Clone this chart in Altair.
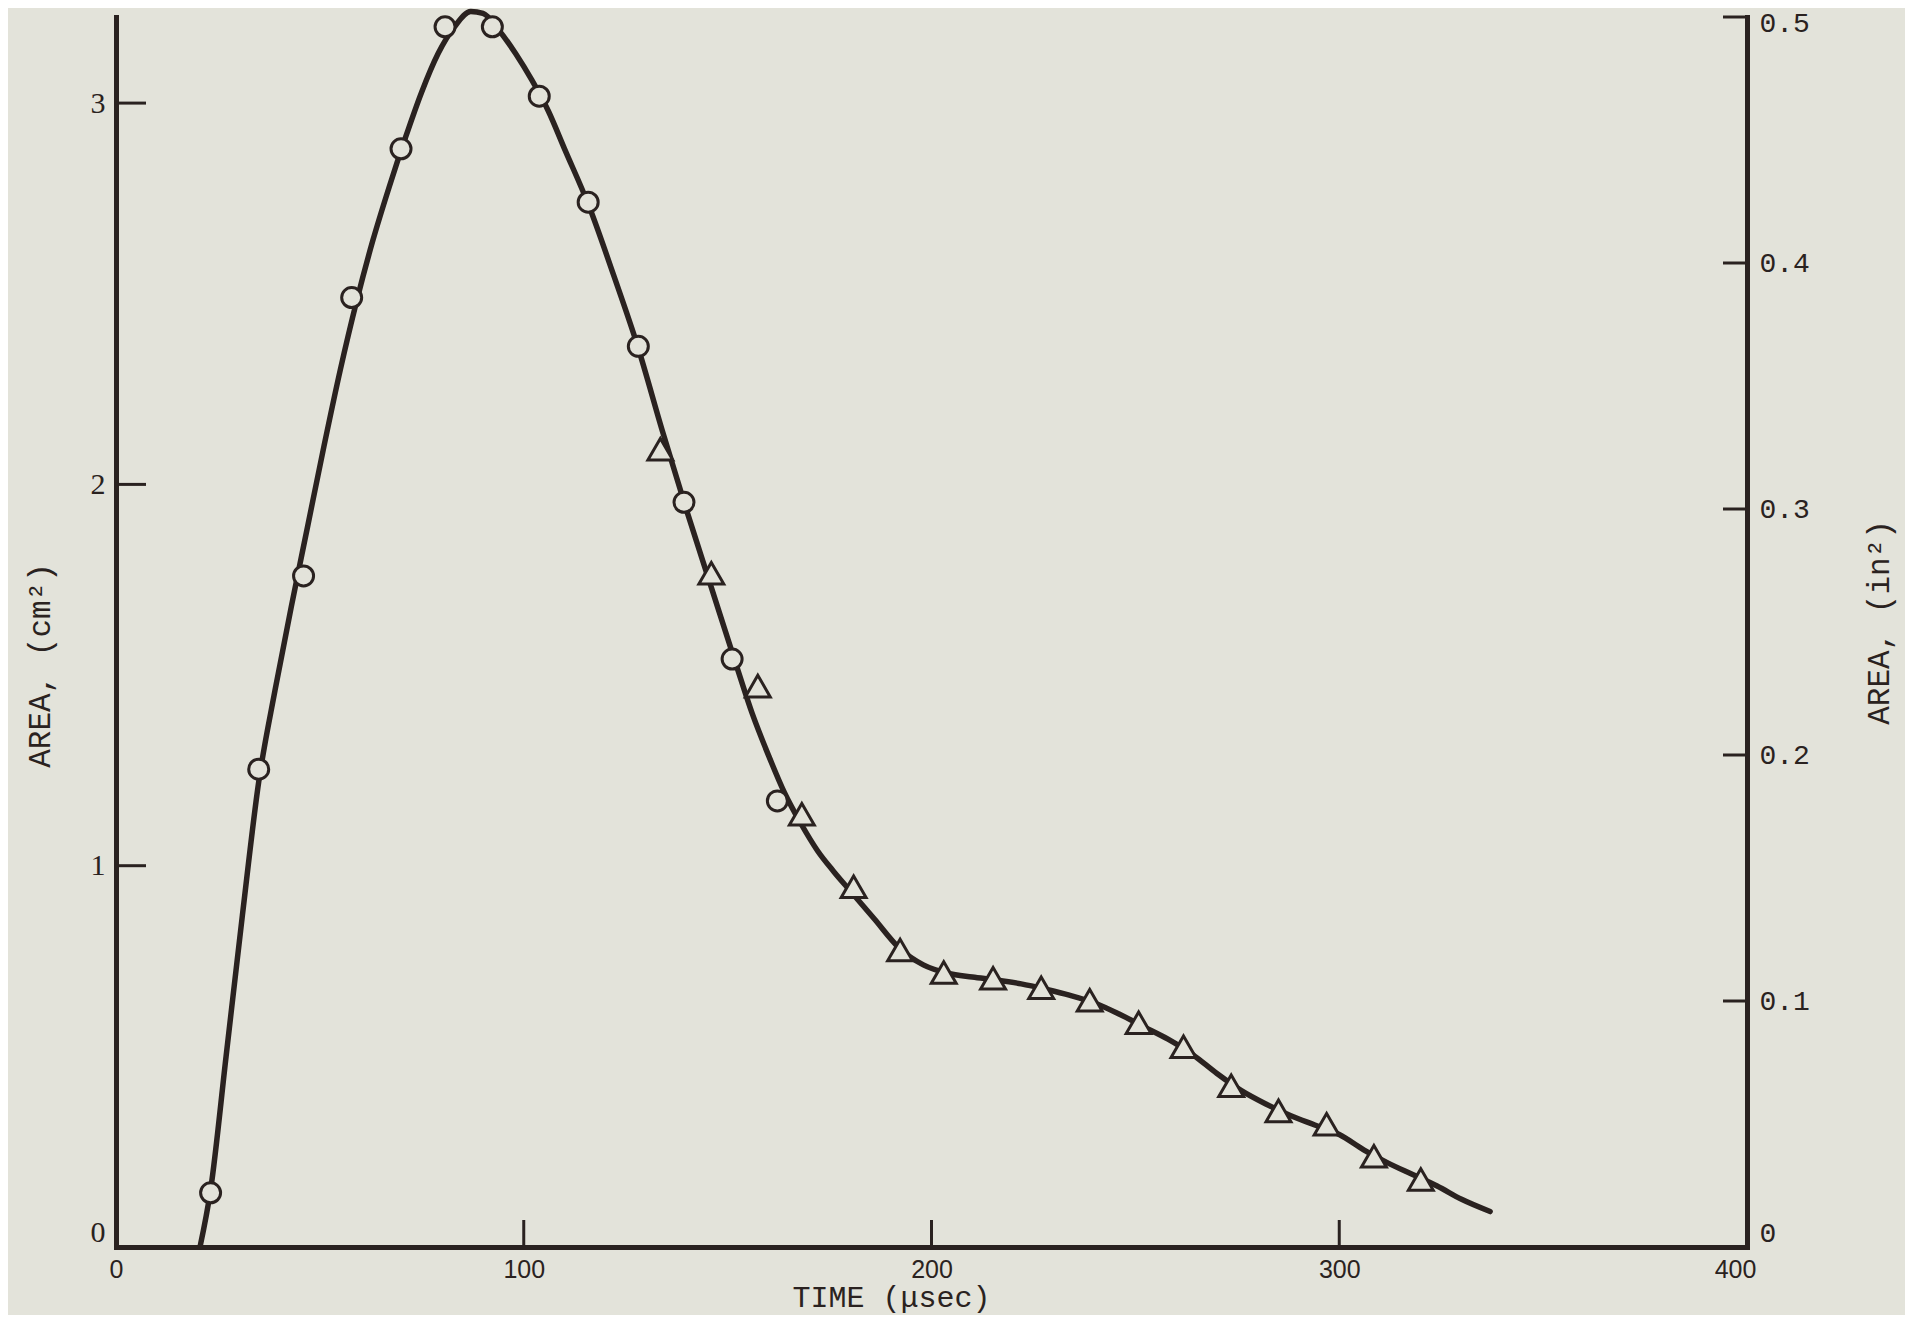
import altair as alt
import pandas as pd

# ---------------- data ----------------
curve_t = [20.6, 23.2, 27, 31, 35, 39, 43, 47, 51, 55, 59, 63, 67, 71, 75, 79, 83, 87, 90, 94,
           98, 102, 106, 110, 116, 122, 128, 134, 140, 146, 152, 156, 160, 164, 168, 172, 176,
           180, 186, 192, 198, 204, 210, 216, 222, 228, 234, 240, 246, 252, 258, 264, 270,
           276, 282, 288, 294, 300, 306, 312, 318, 324, 330, 337]
curve_a = [0.0, 0.15, 0.50, 0.87, 1.22, 1.46, 1.68, 1.89, 2.10, 2.30, 2.48, 2.64, 2.78, 2.91,
           3.03, 3.13, 3.20, 3.24, 3.235, 3.19, 3.13, 3.06, 2.98, 2.88, 2.73, 2.55, 2.36, 2.14,
           1.93, 1.73, 1.53, 1.40, 1.29, 1.19, 1.11, 1.04, 0.985, 0.935, 0.86, 0.785, 0.74,
           0.718, 0.708, 0.700, 0.690, 0.676, 0.660, 0.640, 0.611, 0.578, 0.545, 0.505, 0.455,
           0.41, 0.375, 0.345, 0.32, 0.295, 0.255, 0.22, 0.19, 0.16, 0.125, 0.093]

circle_t = [23.2, 35.0, 46.0, 57.8, 69.9, 80.7, 92.3, 103.8, 115.8, 128.1, 139.3, 151.1, 162.2]
circle_a = [0.142, 1.253, 1.760, 2.49, 2.88, 3.200, 3.200, 3.018, 2.740, 2.362, 1.953, 1.542, 1.170]

tri_t = [133.5, 146.0, 157.4, 168.2, 180.9, 192.3, 203.0, 215.1, 226.9, 238.8, 250.8, 261.8,
         273.5, 285.1, 296.9, 308.5, 320.0]
tri_a = [2.092, 1.767, 1.471, 1.135, 0.945, 0.779, 0.720, 0.705, 0.680, 0.647, 0.588, 0.525,
         0.423, 0.357, 0.322, 0.238, 0.177]

x_label_values = [0, 100, 200, 300, 400]
x_tick_values = [100, 200, 300]
left_label_values = [0, 1, 2, 3]
left_tick_values = [1, 2, 3]
right_label_values = [0, 0.1, 0.2, 0.3, 0.4, 0.5]
right_tick_values = [0.1, 0.2, 0.3, 0.4, 0.5]

CM2_PER_IN2 = 6.4516
X_DOMAIN = [0, 400]
LEFT_DOMAIN = [0, 0.5 * CM2_PER_IN2]
RIGHT_DOMAIN = [0, 0.5]

# ---------------- style ----------------
INK = "#2a2220"
PAPER = "#e3e3da"
W, H = 1631, 1230

curve_df = pd.DataFrame({"t": curve_t, "a": curve_a})
circ_df = pd.DataFrame({"t": circle_t, "a": circle_a})
tri_df = pd.DataFrame({"t": tri_t, "a": tri_a})
xt_df = pd.DataFrame({"t": x_tick_values})
lt_df = pd.DataFrame({"a": left_tick_values})
rt_df = pd.DataFrame({"b": right_tick_values})

x_axis = alt.Axis(
    values=x_label_values, ticks=False, tickSize=0, grid=False,
    domainColor=INK, domainWidth=5, domainCap="square",
    labelFont="Liberation Sans", labelFontSize=25, labelColor=INK,
    labelPadding=10, labelFlush=False,
    labelOffset={"condition": {"test": "datum.value == 400", "value": -12}, "value": 0},
    title="TIME (μsec)", titleFont="Liberation Mono", titleFontSize=30,
    titleFontWeight="normal", titleColor=INK,
    titleX=775, titleY=50, titleBaseline="middle", titleAlign="center",
)
X = alt.X("t:Q", scale=alt.Scale(domain=X_DOMAIN, nice=False, zero=False), axis=x_axis)

left_axis = alt.Axis(
    values=left_label_values, ticks=False, tickSize=0, grid=False,
    domainColor=INK, domainWidth=5, domainCap="square",
    labelFont="Liberation Serif", labelFontSize=30, labelColor=INK,
    labelPadding=11, labelFlush=False, format="d",
    labelBaseline={"condition": {"test": "datum.value == 0", "value": "bottom"}, "value": "middle"},
    title="AREA, (cm²)", titleFont="Liberation Mono", titleFontSize=31,
    titleFontWeight="normal", titleColor=INK, titleAngle=270,
    titleX=-76, titleY=648, titleBaseline="middle", titleAlign="center",
)
Y = alt.Y("a:Q", scale=alt.Scale(domain=LEFT_DOMAIN, nice=False, zero=True), axis=left_axis)

right_axis = alt.Axis(
    orient="right", values=right_label_values, ticks=False, tickSize=0, grid=False,
    domainColor=INK, domainWidth=5, domainCap="square",
    labelFont="Liberation Mono", labelFontSize=28, labelColor=INK,
    labelPadding=12, labelFlush=False,
    labelExpr="datum.value == 0 ? '0' : format(datum.value, '.1f')",
    labelBaseline={"condition": {"test": "datum.value == 0", "value": "bottom"}, "value": "middle"},
    labelOffset={"condition": {"test": "datum.value == 0.5", "value": 6}, "value": 0},
    title="AREA, (in²)", titleFont="Liberation Mono", titleFontSize=31,
    titleFontWeight="normal", titleColor=INK, titleAngle=270,
    titleX=132, titleY=605, titleBaseline="middle", titleAlign="center",
)
Y2 = alt.Y("b:Q", scale=alt.Scale(domain=RIGHT_DOMAIN, nice=False, zero=True), axis=right_axis)

curve = alt.Chart(curve_df).mark_line(
    interpolate="monotone", color=INK, strokeWidth=5.5, strokeCap="round"
).encode(x=X, y=Y)

circles = alt.Chart(circ_df).mark_point(
    shape="circle", size=400, filled=False, fill=PAPER, fillOpacity=1,
    stroke=INK, strokeWidth=3, opacity=1
).encode(x=X, y=Y)

triangles = alt.Chart(tri_df).mark_point(
    shape="triangle-up", size=620, filled=False, fill=PAPER, fillOpacity=1,
    stroke=INK, strokeWidth=3, opacity=1
).encode(x=X, y=Y)

x_ticks = alt.Chart(xt_df).mark_rule(color=INK, strokeWidth=3).encode(
    x=X, y=alt.value(H), y2=alt.value(H - 27)
)
left_ticks = alt.Chart(lt_df).mark_rule(color=INK, strokeWidth=3).encode(
    y=Y, x=alt.value(0), x2=alt.value(30)
)
right_ticks = alt.Chart(rt_df).mark_rule(color=INK, strokeWidth=3).encode(
    y=Y2, x=alt.value(W - 24), x2=alt.value(W)
)

left_group = alt.layer(x_ticks, left_ticks, curve, circles, triangles)

chart = alt.layer(left_group, right_ticks).resolve_scale(y="independent").properties(
    width=W, height=H,
    background=PAPER,
    autosize=alt.AutoSizeParams(type="none"),
    padding={"left": 108, "top": 9, "right": 158, "bottom": 68},
).configure_view(stroke=None)

chart.save("out.html", embed_options={"renderer": "svg", "actions": False})
